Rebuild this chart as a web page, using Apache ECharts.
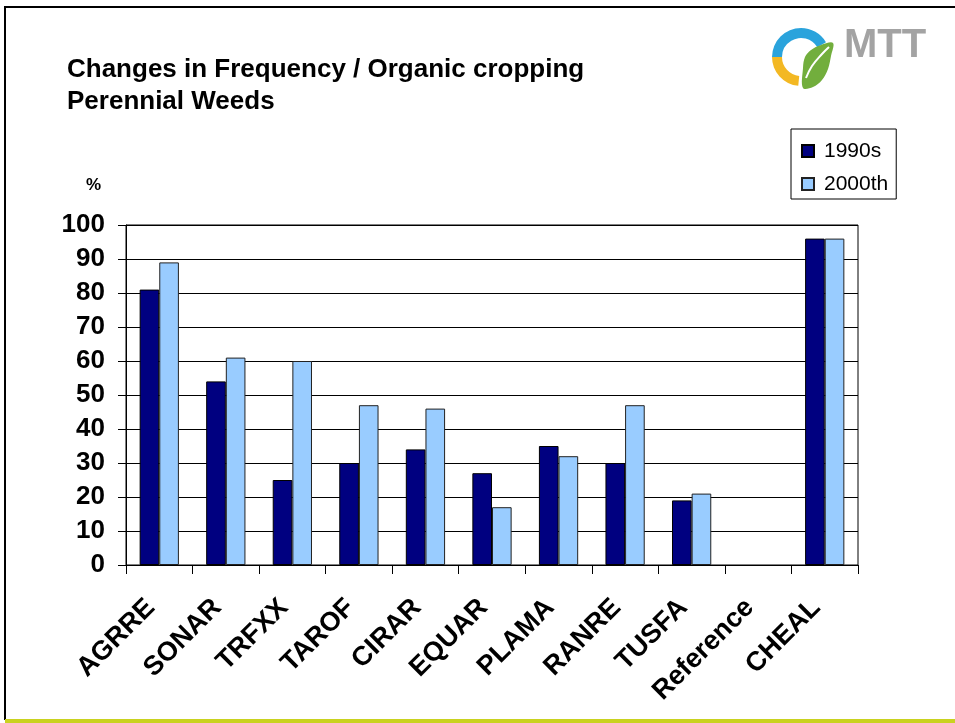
<!DOCTYPE html>
<html>
<head>
<meta charset="utf-8">
<script src="https://cdn.jsdelivr.net/npm/echarts@6/dist/echarts.min.js"></script>
<style>
html,body{margin:0;padding:0;background:#fff;}
#chart{width:955px;height:723px;}
</style>
</head>
<body>
<div id="chart"></div>
<script>
const categories = ['AGRRE','SONAR','TRFXX','TAROF','CIRAR','EQUAR','PLAMA','RANRE','TUSFA','Reference','CHEAL'];
const values1990s = [81, 54, 25, 30, 34, 27, 35, 30, 19, null, 96];
const values2000th = [89, 61, 60, 47, 46, 17, 32, 47, 21, null, 96];
const seriesNames = ['1990s', '2000th'];
const yTicks = [0, 10, 20, 30, 40, 50, 60, 70, 80, 90, 100];

const FONT = '"Liberation Sans", Arial, sans-serif';
const chart = echarts.init(document.getElementById('chart'), null, {renderer: 'canvas'});

chart.setOption({
  backgroundColor: '#ffffff',
  animation: false,
  title: {
    text: 'Changes in Frequency / Organic cropping\nPerennial Weeds',
    left: 62, top: 49,
    textStyle: {fontFamily: FONT, fontWeight: 'bold', fontSize: 26, lineHeight: 32, color: '#000'}
  },
  legend: {
    orient: 'vertical',
    left: 791, top: 129,
    padding: [11, 8, 4, 10],
    itemGap: 11,
    itemWidth: 12, itemHeight: 12,
    borderColor: '#000', borderWidth: 1,
    backgroundColor: '#fff',
    icon: 'rect',
    textStyle: {fontFamily: FONT, fontSize: 21, lineHeight: 22, color: '#000', padding: [0, 0, 0, 5]},
    data: seriesNames
  },
  grid: {
    left: 126, right: 97, top: 225, bottom: 158,
    show: true, borderColor: '#000', borderWidth: 1, backgroundColor: 'transparent'
  },
  xAxis: {
    type: 'category',
    data: categories,
    axisLine: {lineStyle: {color: '#000', width: 1}},
    axisTick: {show: true, length: 9, lineStyle: {color: '#000'}},
    axisLabel: {
      rotate: 45, margin: 30, interval: 0,
      padding: [0, 12, 0, 0],
      fontFamily: FONT, fontWeight: 'bold', fontSize: 27, color: '#000'
    }
  },
  yAxis: {
    type: 'value',
    min: 0, max: 100, interval: 10,
    axisLine: {show: true, lineStyle: {color: '#000', width: 1}},
    axisTick: {show: true, length: 8, lineStyle: {color: '#000'}},
    splitLine: {show: true, lineStyle: {color: '#000', width: 1}},
    axisLabel: {
      margin: 21,
      fontFamily: FONT, fontWeight: 'bold', fontSize: 26, color: '#000',
      formatter: v => yTicks.includes(v) ? String(v) : ''
    }
  },
  series: [
    {
      name: seriesNames[0], type: 'bar', data: values1990s,
      barGap: '0%', barCategoryGap: '41%',
      itemStyle: {color: '#000080', borderColor: '#000', borderWidth: 1}
    },
    {
      name: seriesNames[1], type: 'bar', data: values2000th,
      barGap: '0%', barCategoryGap: '41%',
      itemStyle: {color: '#99ccff', borderColor: '#222', borderWidth: 1}
    }
  ],
  graphic: [
    // slide frame
    {type: 'line', shape: {x1: 4, y1: 7, x2: 955, y2: 7}, style: {stroke: '#000', lineWidth: 2}},
    {type: 'line', shape: {x1: 5, y1: 6, x2: 5, y2: 720}, style: {stroke: '#000', lineWidth: 2}},
    {type: 'rect', shape: {x: 5, y: 719, width: 950, height: 4}, style: {fill: '#c9d21f'}},
    // y axis unit
    {type: 'text', left: 86, top: 177, style: {text: '%', fontFamily: FONT, fontWeight: 'bold', fontSize: 17, fill: '#000'}},
    // MTT logo
    {type: 'sector', shape: {cx: 801, cy: 57, r: 29, r0: 19, startAngle: Math.PI, endAngle: Math.PI * 1.83, clockwise: true}, style: {fill: '#2aa3dc'}},
    {type: 'sector', shape: {cx: 801, cy: 57, r: 29, r0: 19, startAngle: Math.PI * 0.53, endAngle: Math.PI, clockwise: true}, style: {fill: '#f3b823'}},
    {type: 'polygon', shape: {points: [[803,88],[813,87],[822,80],[828,69],[831,56],[833,43],[821,45],[811,50],[805,57],[803,68]], smooth: 0.35}, style: {fill: '#72ae3d'}},
    {type: 'polyline', shape: {points: [[806,78],[812,66],[822,54],[829,47]], smooth: 0.4}, style: {stroke: '#fff', lineWidth: 2, fill: null}},
    {type: 'text', left: 844, top: 26, style: {text: 'MTT', fontFamily: FONT, fontWeight: 'bold', fontSize: 40, fill: '#a3a3a3'}}
  ]
});
</script>
</body>
</html>
